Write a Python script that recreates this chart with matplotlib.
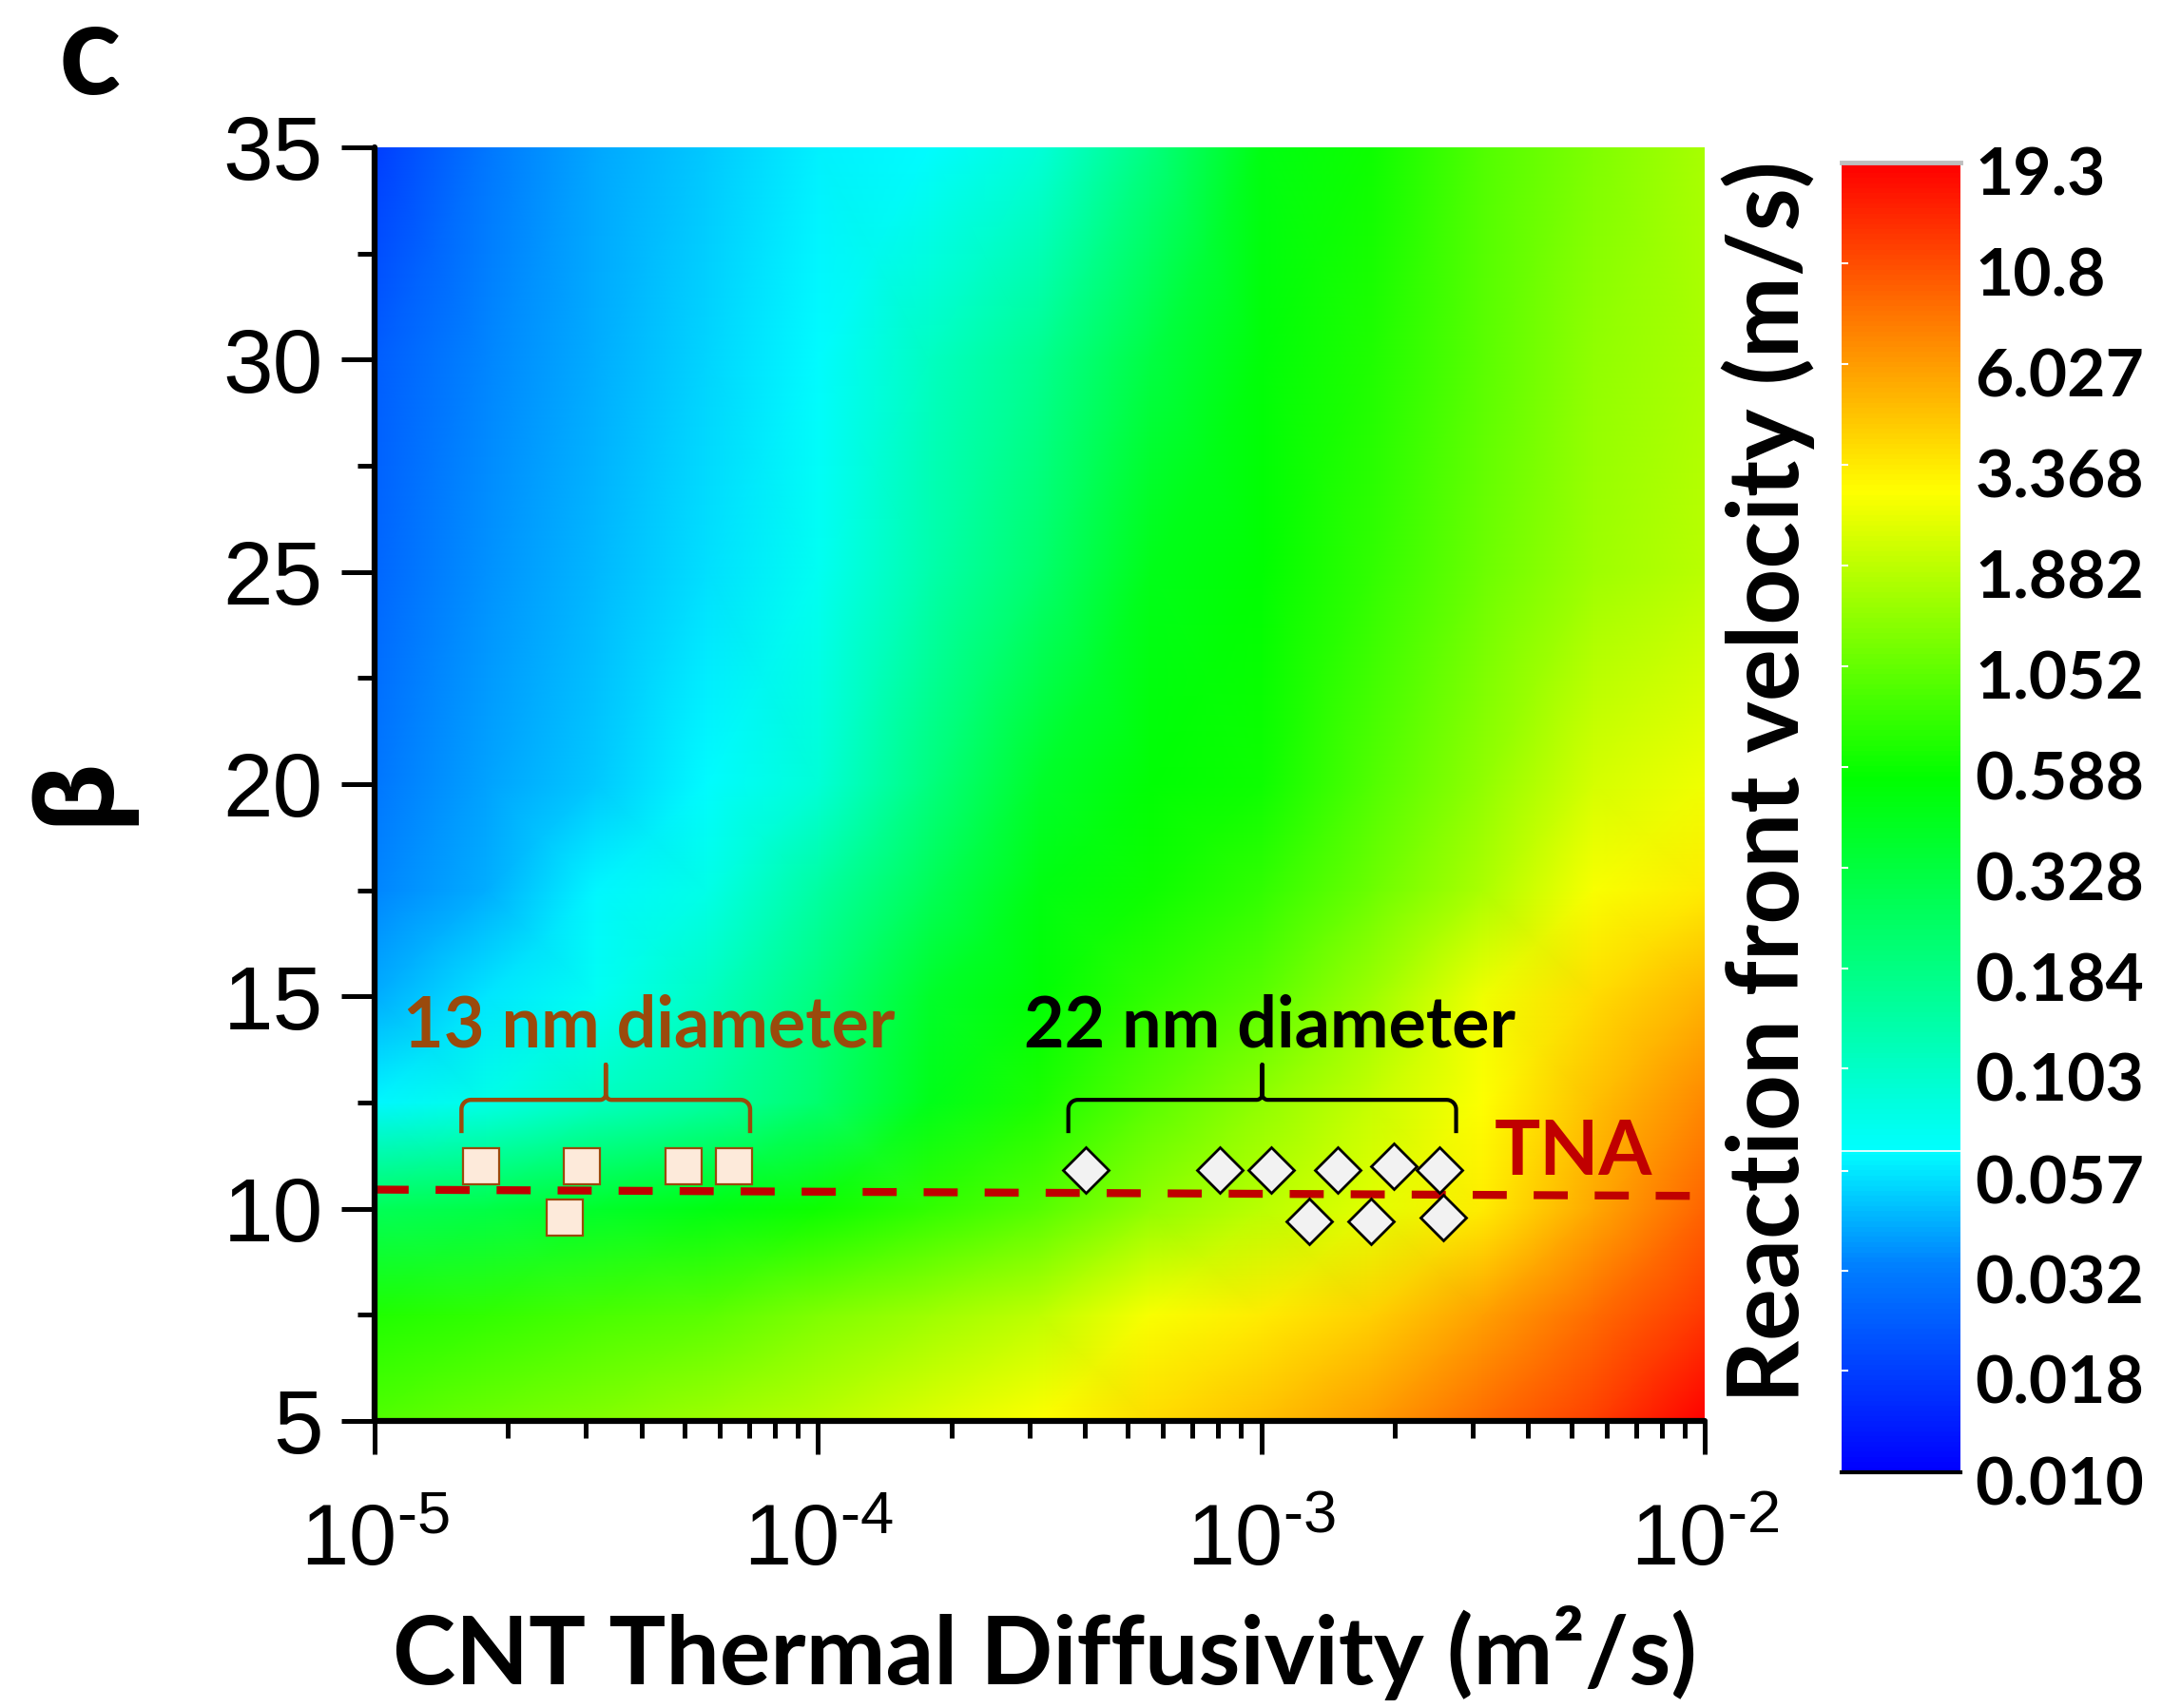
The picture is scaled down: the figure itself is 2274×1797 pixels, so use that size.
import numpy as np
import matplotlib.pyplot as plt
from matplotlib.colors import LinearSegmentedColormap, LogNorm
from matplotlib.ticker import MultipleLocator, NullFormatter
from matplotlib.transforms import ScaledTranslation

plt.rcParams['font.family'] = 'Liberation Sans'
plt.rcParams['mathtext.fontset'] = 'custom'
plt.rcParams['mathtext.rm'] = 'Liberation Sans'
plt.rcParams['mathtext.it'] = 'Liberation Sans:italic'
plt.rcParams['mathtext.bf'] = 'Liberation Sans:bold'

BOLD = ['Lato', 'Open Sans', 'DejaVu Sans']

# map nodes: CNT thermal diffusivity (m2/s) x beta -> front velocity (m/s)
diffusivity = [1e-5, 1.78e-5, 3.16e-5, 5.62e-5, 1e-4, 1.78e-4, 3.16e-4,
               5.62e-4, 1e-3, 1.78e-3, 3.16e-3, 5.62e-3, 1e-2]
beta = [5, 7.5, 10, 12.5, 15, 17.5, 20, 25, 30, 35]
velocity = [
    [0.93, 1.13, 1.30, 1.56, 1.85, 2.3, 2.9, 3.7, 4.6, 6.0, 8.5, 12.0, 19.3],
    [0.67, 0.75, 0.87, 1.00, 1.26, 1.56, 1.9, 2.75, 3.3, 4.1, 5.8, 8.5, 12.6],
    [0.26, 0.30, 0.39, 0.47, 0.60, 0.75, 0.95, 1.42, 1.85, 2.4, 3.3, 5.5, 9.0],
    [0.062, 0.078, 0.108, 0.14, 0.22, 0.44, 0.65, 1.00, 1.42, 2.0, 2.9, 4.6, 7.0],
    [0.042, 0.057, 0.072, 0.108, 0.19, 0.39, 0.54, 0.75, 1.00, 1.56, 2.6, 3.7, 5.0],
    [0.034, 0.042, 0.062, 0.078, 0.14, 0.26, 0.47, 0.60, 0.75, 1.13, 1.7, 2.75, 3.3],
    [0.030, 0.039, 0.048, 0.064, 0.09, 0.19, 0.39, 0.53, 0.60, 0.93, 1.42, 2.2, 2.6],
    [0.026, 0.036, 0.044, 0.055, 0.072, 0.13, 0.22, 0.44, 0.55, 0.75, 1.13, 1.56, 1.85],
    [0.024, 0.034, 0.042, 0.052, 0.064, 0.108, 0.165, 0.31, 0.51, 0.67, 1.0, 1.42, 1.7],
    [0.018, 0.030, 0.041, 0.048, 0.060, 0.064, 0.089, 0.19, 0.47, 0.60, 0.93, 1.26, 1.66],
]

# experimental points
d13_diff = [1.74e-5, 2.93e-5, 2.69e-5, 4.98e-5, 6.47e-5]
d13_beta = [11.0, 11.0, 9.8, 11.0, 11.0]
d22_diff = [4.02e-4, 8.05e-4, 1.05e-3, 1.49e-3, 1.99e-3, 2.52e-3, 1.28e-3, 1.77e-3, 2.57e-3]
d22_beta = [10.9, 10.9, 10.9, 10.9, 11.0, 10.9, 9.7, 9.7, 9.8]

tna_diff = [1e-5, 1e-2]
tna_beta = [10.45, 10.3]

cb_ticks = [0.010, 0.018, 0.032, 0.057, 0.103, 0.184, 0.328, 0.588,
            1.052, 1.882, 3.368, 6.027, 10.8, 19.3]
cb_labels = ['0.010', '0.018', '0.032', '0.057', '0.103', '0.184', '0.328',
             '0.588', '1.052', '1.882', '3.368', '6.027', '10.8', '19.3']

cmap = LinearSegmentedColormap.from_list('origin_rainbow', [
    (0.0, '#0000FF'), (0.157, '#0080FF'), (0.245, '#00FFFF'),
    (0.53, '#00FF00'), (0.75, '#FFFF00'), (1.0, '#FF0000')])
norm = LogNorm(vmin=0.010, vmax=19.3)

W, H = 2274, 1797
fig = plt.figure(figsize=(W / 100, H / 100), dpi=100)
ax = fig.add_axes([394 / W, 1 - 1495 / H, 1399 / W, 1340 / H])
cax = fig.add_axes([1937 / W, 1 - 1549 / H, 125 / W, 1378 / H])

mesh = ax.pcolormesh(diffusivity, beta, velocity, shading='gouraud',
                     cmap=cmap, norm=norm)
ax.set_xscale('log')
ax.set_xlim(1e-5, 1e-2)
ax.set_ylim(5, 35)

for s in ['top', 'right']:
    ax.spines[s].set_visible(False)
for s in ['left', 'bottom']:
    ax.spines[s].set_linewidth(4.5)
    ax.spines[s].set_capstyle('round')

ax.set_yticks([5, 10, 15, 20, 25, 30, 35])
ax.yaxis.set_minor_locator(MultipleLocator(2.5))
ax.set_xticks([1e-5, 1e-4, 1e-3, 1e-2])
ax.set_xticklabels([r'$\mathregular{10^{\text{-}5}}$', r'$\mathregular{10^{\text{-}4}}$',
                    r'$\mathregular{10^{\text{-}3}}$', r'$\mathregular{10^{\text{-}2}}$'])
ax.xaxis.set_minor_formatter(NullFormatter())
ax.tick_params(which='major', length=25, width=3.6, direction='out')
ax.tick_params(which='minor', length=13, width=3.6, direction='out')
ax.tick_params(axis='y', labelsize=68, pad=14)
ax.tick_params(axis='x', labelsize=65, pad=37)

# TNA dashed line and markers
ax.plot(tna_diff, tna_beta, color='#C00000', lw=6,
        linestyle=(0, (4.3, 3.4)), dash_capstyle='butt')
ax.plot(d13_diff, d13_beta, ls='none', marker='s', ms=28,
        mfc='#FDEADA', mec='#9A4A0C', mew=1.6)
ax.plot(d22_diff, d22_beta, ls='none', marker='D', ms=24,
        mfc='#F2F2F2', mec='black', mew=2.0)


def brace(x0, x1, y0, color, lw):
    a = ax.transAxes.inverted().transform(ax.transData.transform((x0, y0)))
    b = ax.transAxes.inverted().transform(ax.transData.transform((x1, y0)))
    pw, ph = 1399.0, 1340.0
    leg, tip = 35 / ph, 37 / ph
    rx, ry = 10 / pw, 10 / ph
    cx, cy = 6 / pw, 6 / ph
    xl, xr, yb = a[0], b[0], a[1]
    xm = 0.5 * (xl + xr)
    yh = yb + leg
    t = np.linspace(0, np.pi / 2, 12)
    xs = [xl]
    ys = [yb]
    xs += list(xl + rx - rx * np.cos(t))
    ys += list(yh - ry + ry * np.sin(t))
    xs += list(xm - cx + cx * np.sin(t))
    ys += list(yh + cy - cy * np.cos(t))
    xs += [xm]
    ys += [yh + tip]
    xs2 = [2 * xm - v for v in xs[::-1]]
    ys2 = ys[::-1]
    ax.plot(xs + xs2, ys + ys2, color=color, lw=lw, transform=ax.transAxes,
            solid_joinstyle='round', solid_capstyle='butt', clip_on=False)


brace(1.57e-5, 7.03e-5, 11.78, '#9A4A0C', 3.2)
brace(3.67e-4, 2.75e-3, 11.78, 'black', 3.0)

ax.text(4.15e-5, 13.8, '13 nm diameter', color='#9A4A0C', fontsize=53,
        fontweight='bold', family=BOLD, ha='center', va='baseline')
ax.text(1.047e-3, 13.8, '22 nm diameter', color='black', fontsize=53,
        fontweight='bold', family=BOLD, ha='center', va='baseline')
ax.text(5.06e-3, 10.8, 'TNA', color='#C00000', fontsize=58,
        fontweight='bold', family=BOLD, ha='center', va='baseline')

# colour bar
cbar = fig.colorbar(mesh, cax=cax)
cbar.set_ticks(cb_ticks, labels=cb_labels)
cbar.minorticks_off()
cbar.outline.set_visible(False)
cax.tick_params(axis='y', which='major', left=True, right=False,
                labelleft=False, labelright=True, direction='in',
                length=5, width=1.5, color='white', pad=11)
shift = ScaledTranslation(0, -9 / 100, fig.dpi_scale_trans)
for lbl in cax.get_yticklabels():
    lbl.set_fontweight('bold')
    lbl.set_family(BOLD)
    lbl.set_fontsize(50)
    lbl.set_transform(lbl.get_transform() + shift)
cax.axhline(0.0638, color='white', lw=1.2)
cax.axhline(19.3, color='#BEBEBE', lw=3.5, clip_on=False)
cax.axhline(0.010, color='black', lw=3, clip_on=False)

# axis titles
fig.text(1099 / W, 1 - 1772 / H, 'CNT Thermal Diffusivity (m\u00b2/s)',
         fontsize=72, fontweight='bold', family=BOLD, ha='center', va='baseline')
fig.text(1860 / W, 1 - 823 / H, 'Reaction front velocity (m/s)',
         fontsize=74, fontweight='bold', family=BOLD, rotation=90,
         ha='center', va='center')
fig.text(82 / W, 1 - 831 / H, '\u03b2', fontsize=80, fontweight='bold',
         family=['Open Sans', 'DejaVu Sans'], rotation=90,
         ha='center', va='center')
fig.text(94 / W, 1 - 99 / H, 'c', fontsize=98, fontweight='bold',
         family=BOLD, ha='center', va='baseline')

fig.savefig('out.png', dpi=100)
